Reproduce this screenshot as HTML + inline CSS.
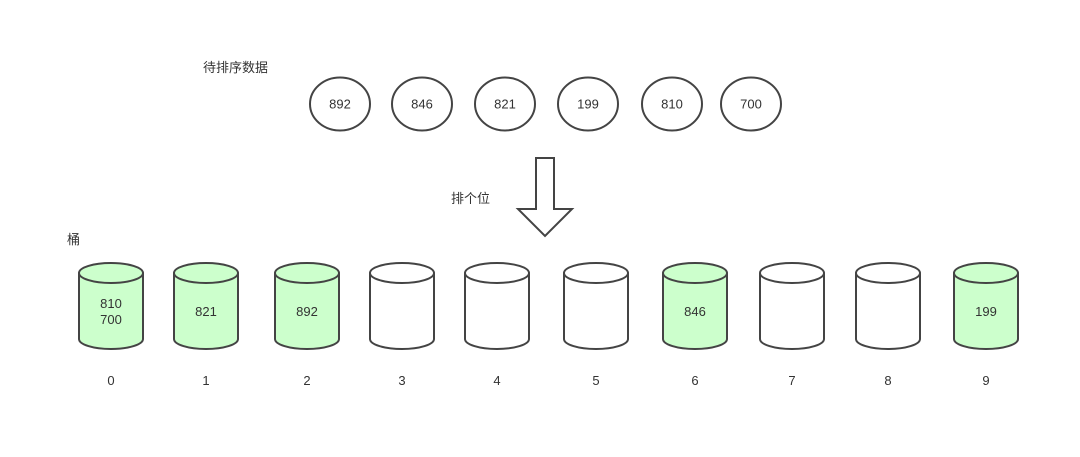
<!DOCTYPE html>
<html><head><meta charset="utf-8"><style>
html,body{margin:0;padding:0;background:#fff;}
svg{display:block;}
text{font-family:"Liberation Sans","Noto Sans CJK SC",sans-serif;fill:#333;font-size:13px;}
</style></head><body>
<svg width="1080" height="457" viewBox="0 0 1080 457" xmlns="http://www.w3.org/2000/svg">
<text x="203" y="72">待排序数据</text>
<text x="451" y="203">排个位</text>
<text x="67" y="244">桶</text>
<g fill="#fff" stroke="#444" stroke-width="2">
<ellipse cx="340" cy="104" rx="30" ry="26.5"/>
<ellipse cx="422" cy="104" rx="30" ry="26.5"/>
<ellipse cx="505" cy="104" rx="30" ry="26.5"/>
<ellipse cx="588" cy="104" rx="30" ry="26.5"/>
<ellipse cx="672" cy="104" rx="30" ry="26.5"/>
<ellipse cx="751" cy="104" rx="30" ry="26.5"/>
</g>
<g text-anchor="middle">
<text x="340" y="108.5">892</text><text x="422" y="108.5">846</text><text x="505" y="108.5">821</text>
<text x="588" y="108.5">199</text><text x="672" y="108.5">810</text><text x="751" y="108.5">700</text>
</g>
<path d="M536 158 H554 V209 H572 L545 236 L518 209 H536 Z" fill="#fff" stroke="#444" stroke-width="2"/>
<defs>
<g id="cyl">
<path d="M-32 273 V339 A32 10 0 0 0 32 339 V273" stroke="#444" stroke-width="2"/>
<ellipse cx="0" cy="273" rx="32" ry="10" stroke="#444" stroke-width="2"/>
</g>
</defs>
<use href="#cyl" x="111" fill="#ccffcc"/>
<use href="#cyl" x="206" fill="#ccffcc"/>
<use href="#cyl" x="307" fill="#ccffcc"/>
<use href="#cyl" x="402" fill="#fff"/>
<use href="#cyl" x="497" fill="#fff"/>
<use href="#cyl" x="596" fill="#fff"/>
<use href="#cyl" x="695" fill="#ccffcc"/>
<use href="#cyl" x="792" fill="#fff"/>
<use href="#cyl" x="888" fill="#fff"/>
<use href="#cyl" x="986" fill="#ccffcc"/>
<g text-anchor="middle">
<text x="111" y="308">810</text><text x="111" y="324">700</text>
<text x="206" y="316">821</text><text x="307" y="316">892</text>
<text x="695" y="316">846</text><text x="986" y="316">199</text>
<text x="111" y="385">0</text><text x="206" y="385">1</text><text x="307" y="385">2</text>
<text x="402" y="385">3</text><text x="497" y="385">4</text><text x="596" y="385">5</text>
<text x="695" y="385">6</text><text x="792" y="385">7</text><text x="888" y="385">8</text>
<text x="986" y="385">9</text>
</g>
</svg>
</body></html>
